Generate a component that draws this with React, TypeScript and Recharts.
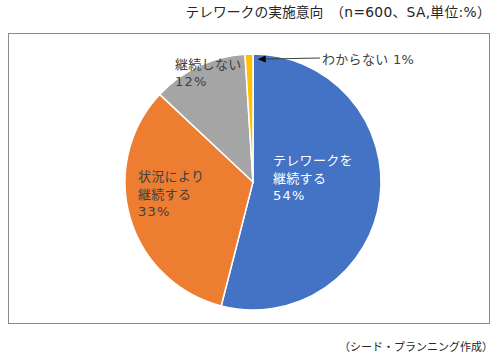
import React from "react";
import { PieChart, Pie, Cell } from "recharts";

const categories = ["テレワークを継続する", "状況により継続する", "継続しない", "わからない"];
const shares = [54, 33, 12, 1];
const labelLines = [
  ["テレワークを", "継続する", "54%"],
  ["状況により", "継続する", "33%"],
  ["継続しない", "12%"],
  ["わからない  1%"],
];
const colors = ["#4472C4", "#ED7D31", "#A5A5A5", "#FFC000"];

const data = categories.map((name, i) => ({ name, value: shares[i] }));

// label anchor offsets from pie centre (left edge, vertical middle of block)
const labelOffset = [
  { dx: 20, dy: -4, fill: "#ffffff" },
  { dx: -115, dy: 12, fill: "#404040" },
  { dx: -78, dy: -109, fill: "#404040" },
  { dx: 69, dy: -123, fill: "#404040" },
];

const FONT = "'DejaVu Sans', 'Noto Sans CJK JP', sans-serif";
const LINE_H = 17.7;

const renderLabel = (props: any) => {
  const { cx, cy, index, midAngle, outerRadius } = props;
  const pos = labelOffset[index];
  const lines = labelLines[index];
  const x = cx + pos.dx;
  const y0 = cy + pos.dy - ((lines.length - 1) * LINE_H) / 2;
  let leader = null;
  if (index === 3) {
    // leader arrow to the small slice
    const RAD = Math.PI / 180;
    const a = (midAngle - 4) * RAD;
    const tx = cx + outerRadius * 0.96 * Math.cos(a);
    const ty = cy - outerRadius * 0.96 * Math.sin(a);
    const sx = x - 2;
    const sy = y0 - 1;
    const ang = Math.atan2(ty - sy, tx - sx);
    const len = 8;
    const w = 3.5;
    const bx = tx - len * Math.cos(ang);
    const by = ty - len * Math.sin(ang);
    leader = (
      <g>
        <line x1={sx} y1={sy} x2={bx} y2={by} stroke="#404040" strokeWidth={1} />
        <polygon
          points={`${tx},${ty} ${bx - w * Math.sin(ang)},${by + w * Math.cos(ang)} ${bx + w * Math.sin(ang)},${by - w * Math.cos(ang)}`}
          fill="#000"
        />
      </g>
    );
  }
  return (
    <g>
      {leader}
      <text x={x} y={y0} fill={pos.fill} fontSize={13} fontFamily={FONT} textAnchor="start" letterSpacing={0.3}>
        {lines.map((l, i) => (
          <tspan
            key={i}
            x={x}
            y={y0 + i * LINE_H}
            dominantBaseline="central"
            letterSpacing={/^\d+%$/.test(l) ? 1.2 : 0.3}
          >
            {l}
          </tspan>
        ))}
      </text>
    </g>
  );
};

export default function App() {
  return (
    <div style={{ position: "absolute", left: 0, top: 0, width: 497, height: 360, background: "#fff", fontFamily: FONT }}>
      <div
        style={{
          position: "absolute",
          right: 6,
          top: 3,
          fontSize: 13.8,
          color: "#262626",
          whiteSpace: "pre",
          lineHeight: "18px",
        }}
      >
        テレワークの実施意向　<span style={{ letterSpacing: 0.3 }}>（n=600、SA,単位:%）</span>
      </div>
      <div
        style={{
          position: "absolute",
          left: 8,
          top: 33,
          width: 480,
          height: 289,
          border: "1px solid #8c8c8c",
        }}
      />
      <div style={{ position: "absolute", left: 0, top: 0 }}>
        <PieChart width={497} height={360}>
          <Pie
            data={data}
            dataKey="value"
            nameKey="name"
            cx={248}
            cy={177}
            outerRadius={128}
            startAngle={90}
            endAngle={-270}
            stroke="#ffffff"
            strokeWidth={1.5}
            label={renderLabel}
            labelLine={false}
            isAnimationActive={false}
          >
            {data.map((d, i) => (
              <Cell key={d.name} fill={colors[i]} />
            ))}
          </Pie>
        </PieChart>
      </div>
      <div
        style={{
          position: "absolute",
          right: 4,
          top: 339,
          fontSize: 11,
          color: "#262626",
          whiteSpace: "pre",
          lineHeight: "18px",
        }}
      >
        （シード・プランニング作成）
      </div>
    </div>
  );
}
